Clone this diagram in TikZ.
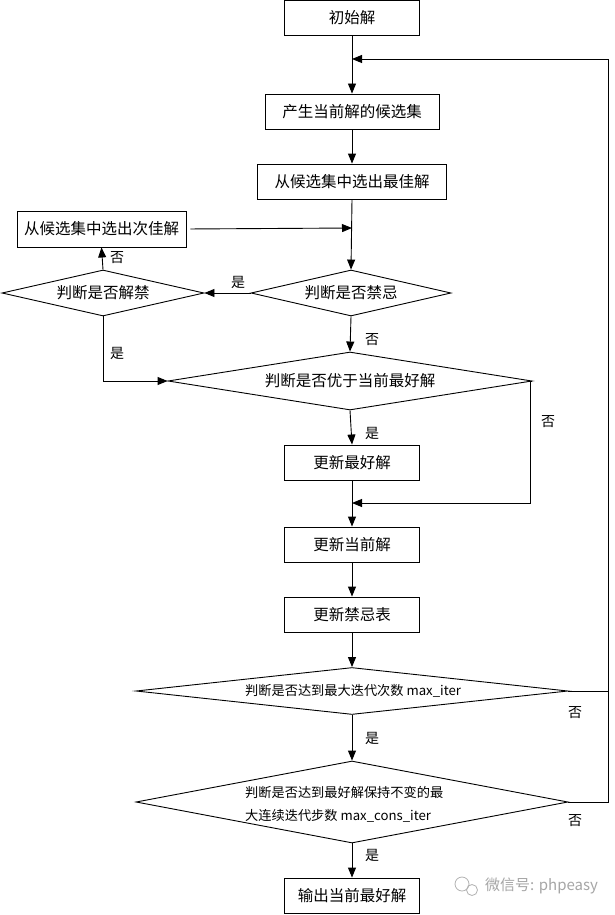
\documentclass[tikz,border=0pt]{standalone}
\usepackage{fontspec}
\newfontfamily\cjk{Noto Sans CJK SC}
\usetikzlibrary{shapes.geometric,arrows.meta}
\begin{document}
\begin{tikzpicture}[x=1pt,y=-1pt,
  box/.style={draw, line width=0.9pt, minimum width=135pt, minimum height=35pt, inner sep=0pt, font=\cjk\fontsize{15.5}{18}\selectfont},
  dia/.style={draw, diamond, inner sep=0pt, line width=0.9pt},
  dtext/.style={font=\cjk\fontsize{15.5}{18}\selectfont, inner sep=0pt},
  stext/.style={font=\cjk\fontsize{13.2}{23}\selectfont, inner sep=0pt, align=left},
  arr/.style={-{Triangle[length=10pt,width=8pt]}, line width=0.9pt},
  ln/.style={line width=0.9pt},
  lbl/.style={font=\cjk\fontsize{14}{16}\selectfont, inner sep=0pt},
]
\useasboundingbox (0,0) rectangle (614,915);
\fill[white] (0,0) rectangle (614,915);

% boxes
\node[box] (init) at (352,18) {初始解};
\node[box, minimum width=174pt] (gen) at (352,111.5) {产生当前解的候选集};
\node[box, minimum width=189pt] (best) at (352,181.5) {从候选集中选出最佳解};
\node[box, minimum width=169pt, minimum height=36pt] (second) at (101.5,229) {从候选集中选出次佳解};
\node[box] (updbest) at (352,462.5) {更新最好解};
\node[box] (updcur) at (352,544.5) {更新当前解};
\node[box] (updtab) at (352,614.5) {更新禁忌表};
\node[box] (out) at (352,895.5) {输出当前最好解};

% diamonds
\node[dia, minimum width=200pt, minimum height=46pt] (taboo) at (351,293) {};
\node[dtext] (tabootxt) at (351,293) {判断是否禁忌};
\node[dia, minimum width=202pt, minimum height=46pt] (release) at (103,293) {};
\node[dtext] (releasetxt) at (103,293) {判断是否解禁};
\node[dia, minimum width=364pt, minimum height=58pt] (better) at (350,381) {};
\node[dtext] (bettertxt) at (350,381) {判断是否优于当前最好解};
\node[dia, minimum width=432pt, minimum height=47pt] (maxit) at (352,691) {};
\node[stext, anchor=west] (maxittxt) at (245,691) {判断是否达到最大迭代次数 max\_iter};
\node[dia, minimum width=432pt, minimum height=82pt] (maxcons) at (352,802) {};
\node[stext, anchor=west] (maxconstxt) at (245,804.5) {判断是否达到最好解保持不变的最\\大连续迭代步数 max\_cons\_iter};

% junction coordinates
\coordinate (j1) at (352,59);
\coordinate (j2) at (352,228);
\coordinate (j3) at (352,503);
\coordinate (rb) at (530,503);
\coordinate (rr) at (608,59);

% main flow
\draw[arr] (init.south) -- (gen.north);
\draw[arr] (gen.south) -- (best.north);
\draw[arr] (best.south) -- (taboo.north);
\draw[arr, shorten <=4pt] (second.east) -- (j2);
\draw[arr] (taboo.west) -- (release.east);
\draw[arr] (release.north) -- (second.south);
\draw[arr] (taboo.south) -- (better.north);
\draw[arr] (release.south) |- (better.west);
\draw[arr] (better.south) -- (updbest.north);
\draw[arr] (better.east) -- (better.east -| rb) -- (rb) -- (j3);
\draw[arr] (updbest.south) -- (updcur.north);
\draw[arr] (updcur.south) -- (updtab.north);
\draw[arr] (updtab.south) -- (maxit.north);
\draw[arr] (maxit.south) -- (maxcons.north);
\draw[arr] (maxcons.south) -- (out.north);
\draw[ln] (maxit.east) -- (maxit.east -| rr);
\draw[arr] (maxcons.east) -- (maxcons.east -| rr) -- (rr) -- (j1);

% labels
\node[lbl] (l1) at (238,282) {是};
\node[lbl] (l2) at (117,258) {否};
\node[lbl] (l3) at (372,340) {否};
\node[lbl] (l4) at (117,353) {是};
\node[lbl] (l5) at (372,433) {是};
\node[lbl] (l6) at (548,422) {否};
\node[lbl] (l7) at (372,738) {是};
\node[lbl] (l8) at (575,713) {否};
\node[lbl] (l9) at (372,855) {是};
\node[lbl] (l10) at (575,821) {否};

% watermark
\draw[gray!60, line width=0.8pt] (462,884) circle (7);
\draw[gray!60, line width=0.8pt] (472,890) circle (5.5);
\node[font=\cjk\fontsize{15}{18}\selectfont, text=gray!70, anchor=west, inner sep=0pt] (wm) at (485,886) {微信号: phpeasy};
\end{tikzpicture}
\end{document}
